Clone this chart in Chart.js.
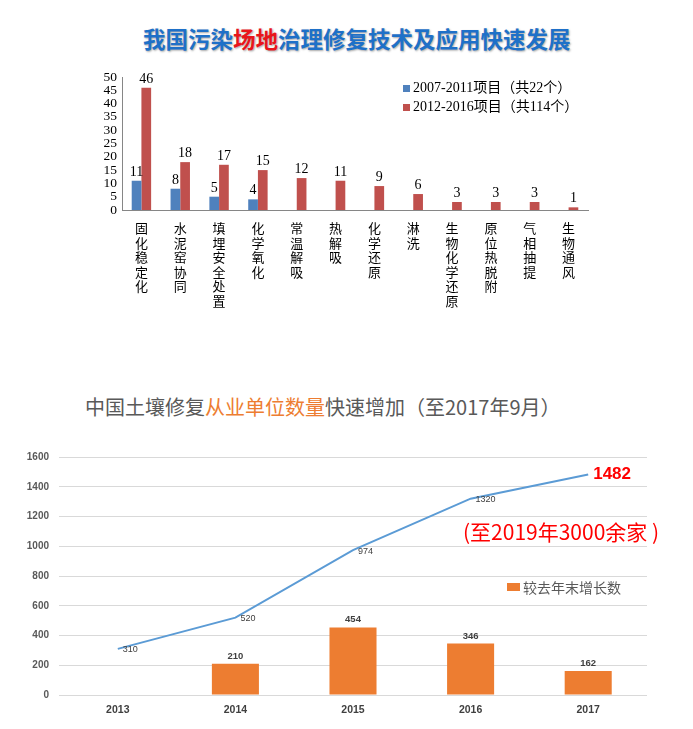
<!DOCTYPE html>
<html><head><meta charset="utf-8">
<script src="https://cdn.jsdelivr.net/npm/chart.js@4"></script>
<style>
html,body{margin:0;padding:0;background:#fff;width:693px;height:729px;overflow:hidden;position:relative;}
.abs{position:absolute;white-space:nowrap;line-height:1;}
canvas{position:absolute;left:0;}
.sq{position:absolute;display:block;}
</style></head><body>
<div class="abs" style="left:143px;top:22px;font:700 22.5px 'Noto Sans CJK SC',sans-serif;color:#1E70C8;text-shadow:1px 1px 2px rgba(0,0,0,0.35)">我国污染<span style="color:#E8151B">场地</span>治理修复技术及应用快速发展</div>
<canvas id="c1" width="693" height="330" style="top:0"></canvas>
<span class="sq" style="left:403px;top:85px;width:7px;height:7px;background:#4F81BD"></span>
<div class="abs" style="left:413px;top:81px;font:14px 'Liberation Serif','Noto Sans CJK SC',serif;line-height:14px;color:#000">2007-2011项目（共22个）</div>
<span class="sq" style="left:403px;top:104px;width:7px;height:7px;background:#C0504D"></span>
<div class="abs" style="left:413px;top:100px;font:14px 'Liberation Serif','Noto Sans CJK SC',serif;line-height:14px;color:#000">2012-2016项目（共114个）</div>

<div class="abs" style="left:85px;top:397px;font:20px 'Noto Sans CJK SC',sans-serif;line-height:20px;color:#595959">中国土壤修复<span style="color:#ED7D31">从业单位数量</span>快速增加（至2017年9月）</div>
<canvas id="c2" width="693" height="299" style="top:430px"></canvas>
<div class="abs" style="left:463px;top:521px;font:21px 'Noto Sans CJK SC',sans-serif;line-height:21px;color:#FF0000">(至2019年3000余家 )</div>
<span class="sq" style="left:507px;top:583px;width:13px;height:8px;background:#ED7D31"></span>
<div class="abs" style="left:523px;top:580px;font:14px 'Noto Sans CJK SC',sans-serif;line-height:14px;color:#595959">较去年末增长数</div>

<script>
// ---- Chart 1 data ----
const techCategories = ['固化稳定化','水泥窑协同','填埋安全处置','化学氧化','常温解吸','热解吸','化学还原','淋洗','生物化学还原','原位热脱附','气相抽提','生物通风'];
const projects2007to2011 = [11,8,5,4,0,0,0,0,0,0,0,0];
const projects2012to2016 = [46,18,17,15,12,11,9,6,3,3,3,1];
const techAxisTicks = [0,5,10,15,20,25,30,35,40,45,50];

// ---- Chart 2 data ----
const years = ['2013','2014','2015','2016','2017'];
const totalUnits = [310,520,974,1320,1482];
const yearlyIncrease = [null,210,454,346,162];
const unitAxisTicks = [0,200,400,600,800,1000,1200,1400,1600];

const valueLabels = {
  id:'valueLabels',
  afterDatasetsDraw(chart){
    const ctx = chart.ctx;
    chart.data.datasets.forEach((ds,i)=>{
      const lab = ds.valueLabel; if(!lab) return;
      const meta = chart.getDatasetMeta(i);
      meta.data.forEach((el,j)=>{
        const v = ds.data[j];
        if(v===null || v===0) return;
        const st = (lab.special && j===ds.data.length-1) ? Object.assign({},lab,lab.special) : lab;
        ctx.save();
        ctx.font = st.font; ctx.fillStyle = st.color;
        ctx.textAlign = st.align; ctx.textBaseline = st.baseline;
        ctx.fillText(String(v), el.x + st.dx, el.y + st.dy);
        ctx.restore();
      });
    });
  }
};

new Chart(document.getElementById('c1'),{
  type:'bar',
  data:{
    labels: techCategories.map(s=>s.split('')),
    datasets:[
      {label:'2007-2011项目（共22个）', data:projects2007to2011, backgroundColor:'#4F81BD',
       valueLabel:{font:"14px 'Liberation Serif'",color:'#000',align:'center',baseline:'alphabetic',dx:0,dy:-5}},
      {label:'2012-2016项目（共114个）', data:projects2012to2016, backgroundColor:'#C0504D',
       valueLabel:{font:"14px 'Liberation Serif'",color:'#000',align:'center',baseline:'alphabetic',dx:0,dy:-5}}
    ]
  },
  options:{
    responsive:false, animation:false, devicePixelRatio:1,
    layout:{padding:{left:0,top:77,right:105,bottom:0}},
    plugins:{legend:{display:false},tooltip:{enabled:false}},
    datasets:{bar:{categoryPercentage:0.5,barPercentage:1}},
    scales:{
      x:{grid:{display:false,drawTicks:false},border:{display:true,color:'#868686'},
         ticks:{autoSkip:false,maxRotation:0,minRotation:0,padding:11,color:'#000',
                font:{family:"'Noto Sans CJK SC', sans-serif",size:13,lineHeight:1.12}},
         afterFit:s=>{s.height=120;}},
      y:{min:0,max:50,grid:{display:false,drawTicks:false},border:{display:true,color:'#868686'},
         afterBuildTicks:s=>{s.ticks=techAxisTicks.map(v=>({value:v}));},
         ticks:{autoSkip:false,padding:5,color:'#000',font:{family:"'Liberation Serif', serif",size:13.5,lineHeight:1},
                callback:v=>String(v)},
         afterFit:s=>{s.width=122;}}
    }
  },
  plugins:[valueLabels]
});

new Chart(document.getElementById('c2'),{
  type:'bar',
  data:{
    labels: years,
    datasets:[
      {type:'line', label:'从业单位数量', data:totalUnits, borderColor:'#5B9BD5', borderWidth:2,
       pointRadius:0, tension:0, fill:false, order:0,
       valueLabel:{font:"9px 'Liberation Sans'",color:'#404040',align:'left',baseline:'middle',dx:5,dy:1,
                   special:{font:"bold 17px 'Liberation Sans'",color:'#FF0000',dx:5,dy:0}}},
      {type:'bar', label:'较去年末增长数', data:yearlyIncrease, backgroundColor:'#ED7D31',
       categoryPercentage:0.4, barPercentage:1, order:1,
       valueLabel:{font:"bold 9.5px 'Liberation Sans'",color:'#404040',align:'center',baseline:'alphabetic',dx:0,dy:-5}}
    ]
  },
  options:{
    responsive:false, animation:false, devicePixelRatio:1,
    layout:{padding:{left:0,top:27,right:46,bottom:0}},
    plugins:{legend:{display:false},tooltip:{enabled:false}},
    scales:{
      x:{grid:{display:false,drawTicks:false},border:{display:false},
         ticks:{padding:9,color:'#404040',font:{family:"'Liberation Sans', sans-serif",size:10.5,weight:'bold'}},
         afterFit:s=>{s.height=34;}},
      y:{min:0,max:1600,grid:{color:'#D9D9D9',lineWidth:1,drawTicks:false},border:{display:false},
         afterBuildTicks:s=>{s.ticks=unitAxisTicks.map(v=>({value:v}));},
         ticks:{autoSkip:false,padding:10,color:'#595959',font:{family:"'Liberation Sans', sans-serif",size:10,weight:'bold'},
                callback:v=>String(v)},
         afterFit:s=>{s.width=59;}}
    }
  },
  plugins:[valueLabels]
});
</script>
</body></html>
